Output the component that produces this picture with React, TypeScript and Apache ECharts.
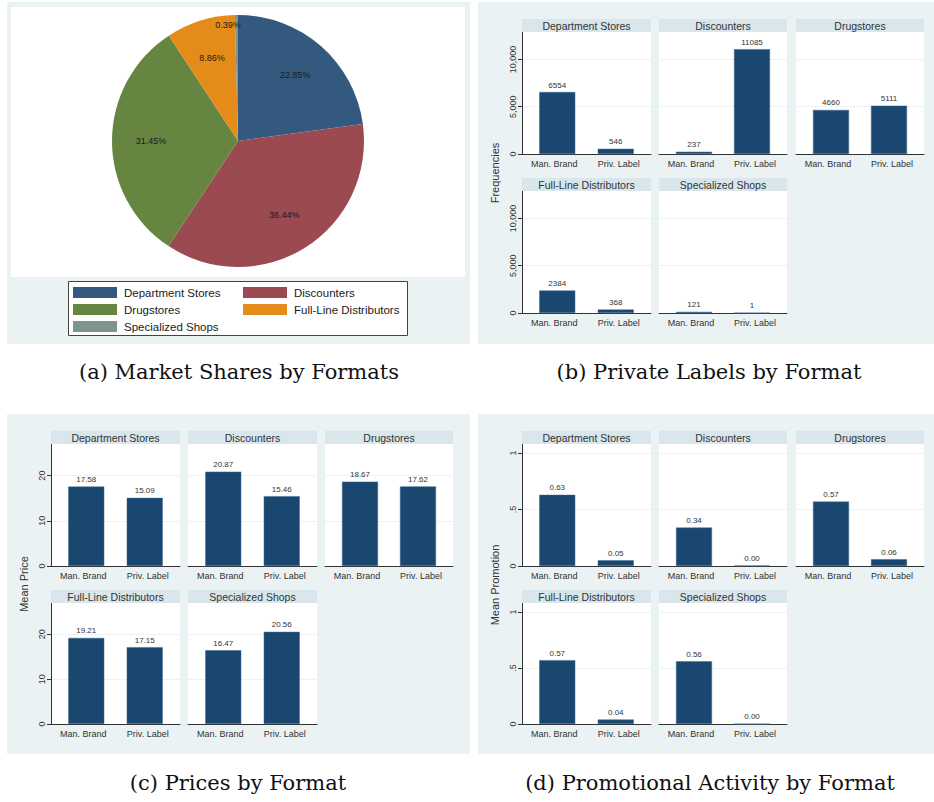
import React, { useEffect, useRef } from "react";
import * as echarts from "echarts";

// ---------- data ----------
const formats = [
  "Department Stores",
  "Discounters",
  "Drugstores",
  "Full-Line Distributors",
  "Specialized Shops",
];
const brandTypes = ["Man. Brand", "Priv. Label"];
const marketShares = [22.85, 36.44, 31.45, 8.86, 0.39];

const freqMan = [6554, 237, 4660, 2384, 121];
const freqPriv = [546, 11085, 5111, 368, 1];
const priceMan = [17.58, 20.87, 18.67, 19.21, 16.47];
const pricePriv = [15.09, 15.46, 17.62, 17.15, 20.56];
const promoMan = [0.63, 0.34, 0.57, 0.57, 0.56];
const promoPriv = [0.05, 0.004, 0.06, 0.04, 0.0];

const freqTicks = [0, 5000, 10000];
const priceTicks = [0, 10, 20];
const promoTicks = [0, 0.5, 1];

const captions = [
  "(a) Market Shares by Formats",
  "(b) Private Labels by Format",
  "(c) Prices by Format",
  "(d) Promotional Activity by Format",
];
const yTitles = ["Frequencies", "Mean Price", "Mean Promotion"];

// ---------- styles ----------
const pieColors = ["#335a7e", "#9a4a50", "#668541", "#e58b1a", "#7e958d"];
const BAR = "#1a476f";
const OUTER = "#eaf2f3";
const STRIP = "#d9e6eb";
const INK = "#333333";
const SANS = "'Liberation Sans', Arial, sans-serif";
const SERIF = "'DejaVu Serif', 'Liberation Serif', serif";

type FacetCfg = {
  colX: number[];
  colW: number[];
  rowTop: number[];
  rowBottom: number[];
  headerH: number;
  max: number;
  interval: number;
  ticks: number[];
  tickFmt: (v: number) => string;
  man: number[];
  priv: number[];
  valFmt: (v: number) => string;
};

function buildOption() {
  const grid: any[] = [];
  const xAxis: any[] = [];
  const yAxis: any[] = [];
  const series: any[] = [];
  const graphic: any[] = [];

  // panel backgrounds
  const bg = (x: number, y: number, w: number, h: number, fill: string, z = -100) =>
    graphic.push({ type: "rect", z, silent: true, shape: { x, y, width: w, height: h }, style: { fill } });
  bg(7, 2, 463, 342, OUTER);
  bg(11, 7, 454, 270, "#ffffff", -90);
  bg(478, 2, 456, 342, OUTER);
  bg(7, 414, 463, 340, OUTER);
  bg(478, 414, 456, 340, OUTER);

  // legend box
  graphic.push({
    type: "rect",
    z: -80,
    silent: true,
    shape: { x: 68.5, y: 281.5, width: 339, height: 54 },
    style: { fill: "#ffffff", stroke: "#444", lineWidth: 1 },
  });

  // captions
  const cap = (text: string, x: number, y: number) =>
    graphic.push({
      type: "text",
      x,
      y,
      z: 10,
      style: { text, fill: "#111", font: `21px ${SERIF}`, textAlign: "center", textVerticalAlign: "middle" },
    });
  cap(captions[0], 239, 372);
  cap(captions[1], 709, 372);
  cap(captions[2], 238, 783);
  cap(captions[3], 710, 783);

  // y titles
  const ytitle = (text: string, x: number, y: number) =>
    graphic.push({
      type: "text",
      x,
      y,
      z: 10,
      rotation: Math.PI / 2,
      style: { text, fill: INK, font: `11px ${SANS}`, textAlign: "center", textVerticalAlign: "middle" },
    });
  ytitle(yTitles[0], 495, 173);
  ytitle(yTitles[1], 24, 584);
  ytitle(yTitles[2], 495, 585);

  const addFacets = (cfg: FacetCfg) => {
    formats.forEach((name, i) => {
      const row = Math.floor(i / 3);
      const col = i % 3;
      const x = cfg.colX[col];
      const w = cfg.colW[col];
      const top = cfg.rowTop[row];
      const h = cfg.rowBottom[row] - top;
      // strip header
      graphic.push({
        type: "rect",
        z: 5,
        silent: true,
        shape: { x, y: top - cfg.headerH, width: w, height: cfg.headerH },
        style: { fill: STRIP },
      });
      graphic.push({
        type: "text",
        z: 6,
        x: x + w / 2,
        y: top - cfg.headerH / 2 + 0.5,
        style: { text: name, fill: INK, font: `10.5px ${SANS}`, textAlign: "center", textVerticalAlign: "middle" },
      });
      const gi = grid.length;
      grid.push({
        left: x,
        top,
        width: w,
        height: h,
        show: true,
        backgroundColor: "#ffffff",
        borderWidth: 0,
        containLabel: false,
      });
      xAxis.push({
        type: "category",
        gridIndex: gi,
        data: brandTypes,
        axisLine: { show: true, lineStyle: { color: INK, width: 1 } },
        axisTick: { show: false },
        axisLabel: { interval: 0, fontSize: 9, color: INK, fontFamily: SANS, margin: 5 },
        splitLine: { show: false },
      });
      const first = col === 0;
      yAxis.push({
        type: "value",
        gridIndex: gi,
        min: 0,
        max: cfg.max,
        interval: cfg.interval,
        axisLine: { show: first, lineStyle: { color: INK, width: 1 } },
        axisTick: { show: first, length: 4, lineStyle: { color: INK }, customValues: cfg.ticks },
        axisLabel: {
          show: first,
          rotate: 90,
          fontSize: 9,
          color: INK,
          fontFamily: SANS,
          margin: 5,
          customValues: cfg.ticks,
          formatter: (v: number) => (cfg.ticks.indexOf(v) >= 0 ? cfg.tickFmt(v) : ""),
        },
        splitLine: { show: true, lineStyle: { color: "#edf3f4", width: 1 } },
      });
      const barCommon = {
        type: "bar",
        xAxisIndex: gi,
        yAxisIndex: gi,
        barWidth: 36,
        barGap: "-83.33%",
        itemStyle: { color: BAR, borderColor: "#3d6a92", borderWidth: 0.5 },
        label: {
          show: true,
          position: "top",
          distance: 3,
          fontSize: 8,
          color: INK,
          fontFamily: SANS,
          formatter: (p: any) => cfg.valFmt(p.value),
        },
        silent: true,
      };
      // private label first so the two bars sit slightly toward the middle, as in the original
      series.push({ ...barCommon, name: brandTypes[1], data: ["-", cfg.priv[i]] });
      series.push({ ...barCommon, name: brandTypes[0], data: [cfg.man[i], "-"] });
    });
  };

  const colsRight = [522, 659, 796];
  const widthsRight = [129, 128, 128];
  const colsLeft = [51, 188, 325];
  const widthsLeft = [129, 129, 128];

  addFacets({
    colX: colsRight,
    colW: widthsRight,
    rowTop: [32, 191],
    rowBottom: [154, 313],
    headerH: 13,
    max: 12900,
    interval: 5000,
    ticks: freqTicks,
    tickFmt: (v) => v.toLocaleString("en-US"),
    man: freqMan,
    priv: freqPriv,
    valFmt: (v) => String(v),
  });
  addFacets({
    colX: colsLeft,
    colW: widthsLeft,
    rowTop: [444, 603],
    rowBottom: [566, 724],
    headerH: 13,
    max: 27,
    interval: 10,
    ticks: priceTicks,
    tickFmt: (v) => String(v),
    man: priceMan,
    priv: pricePriv,
    valFmt: (v) => v.toFixed(2),
  });
  addFacets({
    colX: colsRight,
    colW: widthsRight,
    rowTop: [444, 603],
    rowBottom: [566, 724],
    headerH: 13,
    max: 1.08,
    interval: 0.5,
    ticks: promoTicks,
    tickFmt: (v) => (v === 0.5 ? ".5" : String(v)),
    man: promoMan,
    priv: promoPriv,
    valFmt: (v) => v.toFixed(2),
  });

  // pie
  const pieData = formats.map((name, i) => ({
    name,
    value: marketShares[i],
    itemStyle: { color: pieColors[i] },
  }));
  series.push({
    type: "pie",
    center: [238, 141],
    radius: 126,
    startAngle: 90,
    clockwise: true,
    data: pieData,
    label: { show: false },
    labelLine: { show: false },
    itemStyle: { borderWidth: 0 },
    emphasis: { disabled: true },
    silent: true,
  });
  // label carrier (transparent, wider radius so labels sit ~2/3 of the way out)
  series.push({
    type: "pie",
    center: [238, 141],
    radius: 168,
    startAngle: 90,
    clockwise: true,
    data: formats.map((name, i) => ({
      name,
      value: marketShares[i],
      itemStyle: { color: "rgba(0,0,0,0)" },
      label: i === 4 ? { offset: [-9, -29] } : undefined,
    })),
    label: {
      show: true,
      position: "inside",
      fontSize: 9,
      color: "#1a1a1a",
      fontFamily: SANS,
      formatter: (p: any) => `${Number(p.value).toFixed(2)}%`,
    },
    labelLine: { show: false },
    itemStyle: { borderWidth: 0 },
    emphasis: { disabled: true },
    silent: true,
    z: 3,
  });

  const legendCommon = {
    orient: "vertical",
    top: 286.5,
    itemWidth: 44,
    itemHeight: 11,
    itemGap: 5,
    icon: "rect",
    selectedMode: false,
    padding: 0,
    textStyle: { fontSize: 11.5, color: "#1a1a1a", fontFamily: SANS, lineHeight: 11, padding: [0, 0, 0, 2] },
  };
  const legend = [
    { ...legendCommon, left: 73, data: [formats[0], formats[2], formats[4]] },
    { ...legendCommon, left: 243, data: [formats[1], formats[3]] },
  ];

  return {
    animation: false,
    backgroundColor: "#ffffff",
    grid,
    xAxis,
    yAxis,
    series,
    legend,
    graphic: { elements: graphic },
  };
}

export default function App() {
  const ref = useRef<HTMLDivElement>(null);
  useEffect(() => {
    if (!ref.current) return;
    const chart = echarts.init(ref.current, undefined, { renderer: "svg", width: 934, height: 802 });
    chart.setOption(buildOption() as any);
    return () => chart.dispose();
  }, []);
  return (
    <div style={{ position: "absolute", left: 0, top: 0, width: 934, height: 802, background: "#fff" }}>
      <div ref={ref} style={{ width: 934, height: 802 }} />
    </div>
  );
}
